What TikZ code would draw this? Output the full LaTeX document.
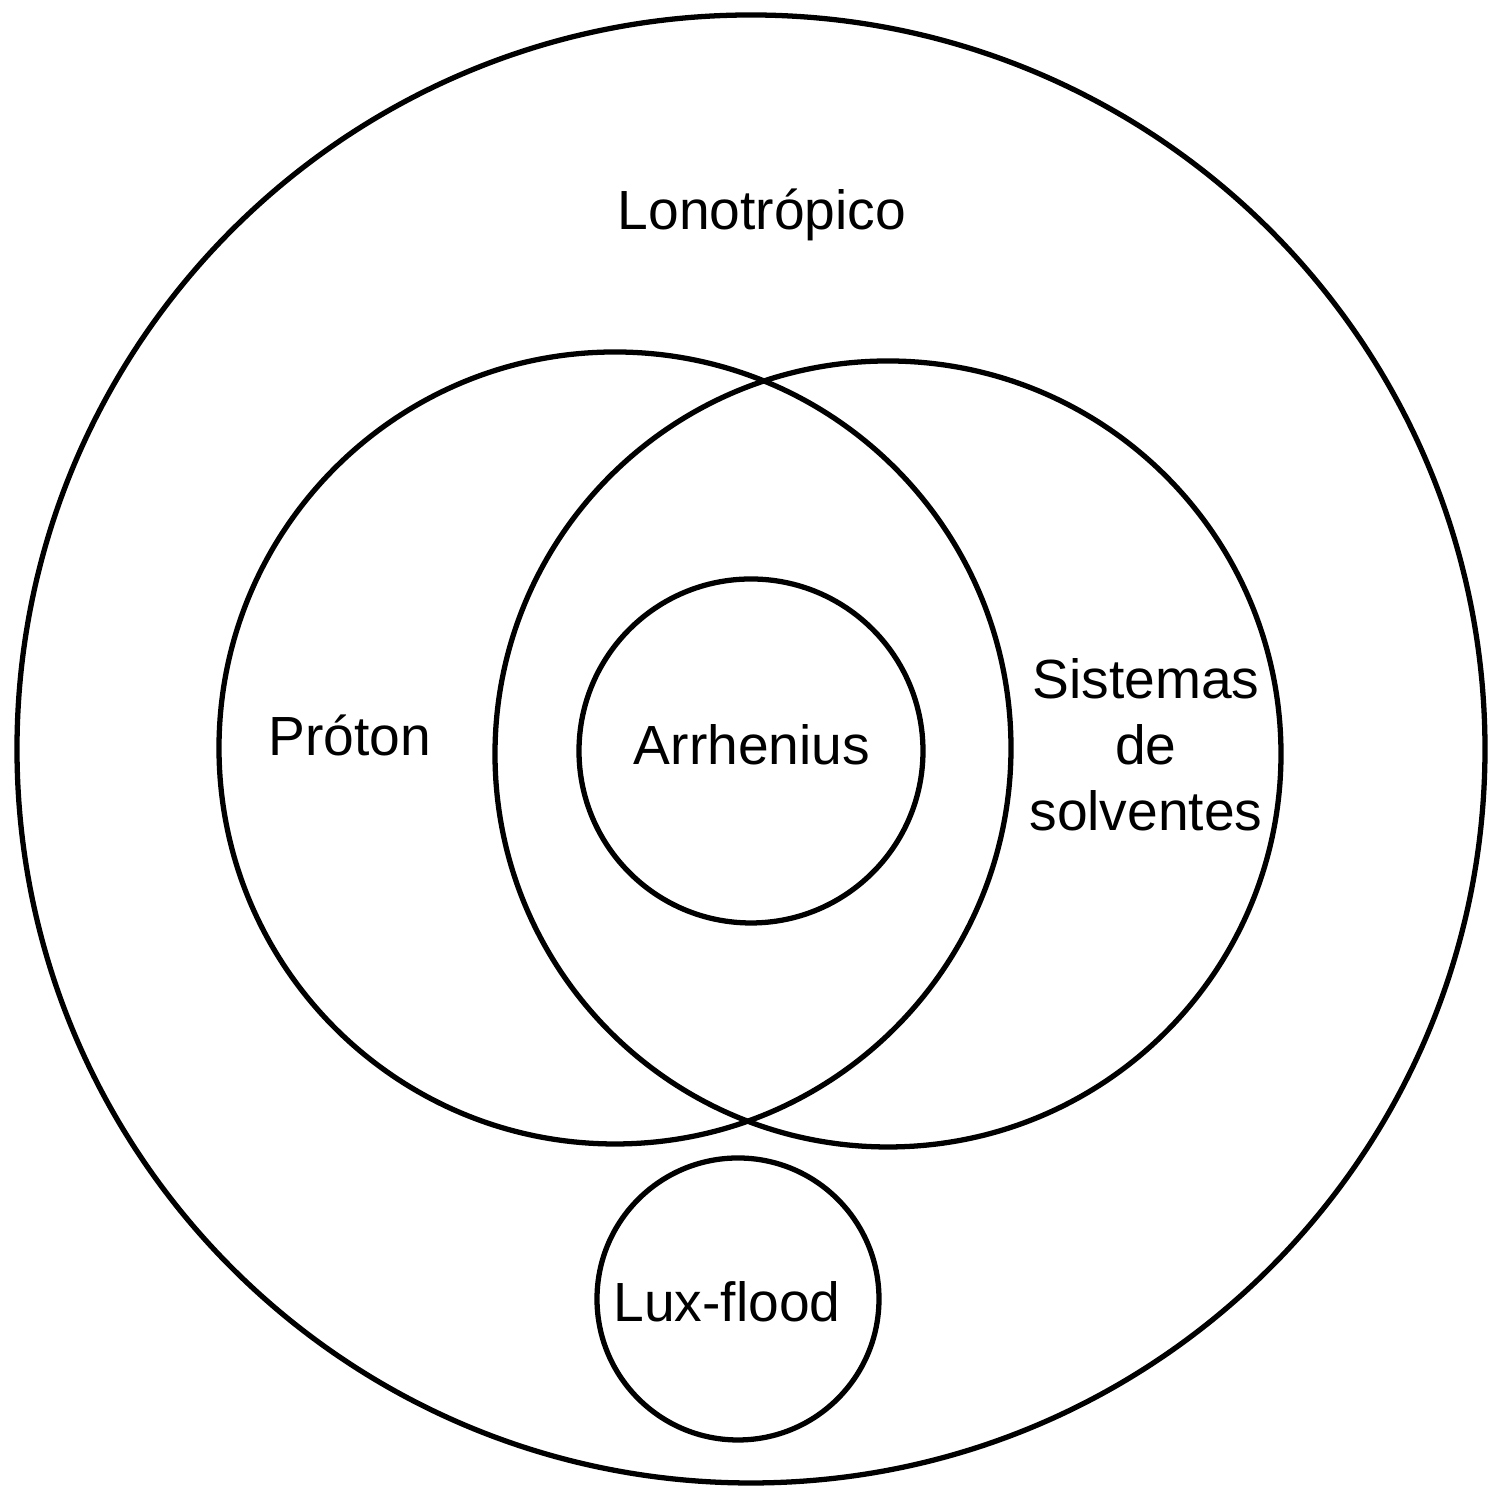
\documentclass[tikz,border=0pt]{standalone}
\usepackage{fontspec}
\setmainfont{Liberation Sans}
\begin{document}
\begin{tikzpicture}[line width=1.5pt,
  lbl/.style={font=\fontsize{15.7}{18.8}\selectfont,align=center,inner sep=0pt}]
\useasboundingbox (0,0) rectangle (15,14.93);

\draw (7.51,7.44) circle (7.34);
\draw (6.15,7.45) circle (3.96);
\draw (8.88,7.39) circle (3.93);
\draw (7.51,7.42) circle (1.72);
\draw (7.38,1.94) circle (1.41);

\node[lbl] (lono) at (7.62,12.78) {Lonotrópico};
\node[lbl] (proton) at (3.50,7.58) {Próton};
\node[lbl] (arrh) at (7.52,7.48) {Arrhenius};
\node[lbl] (solv) at (11.46,7.48) {Sistemas\\de\\solventes};
\node[lbl] (lux) at (7.27,1.91) {Lux-flood};
\end{tikzpicture}
\end{document}
